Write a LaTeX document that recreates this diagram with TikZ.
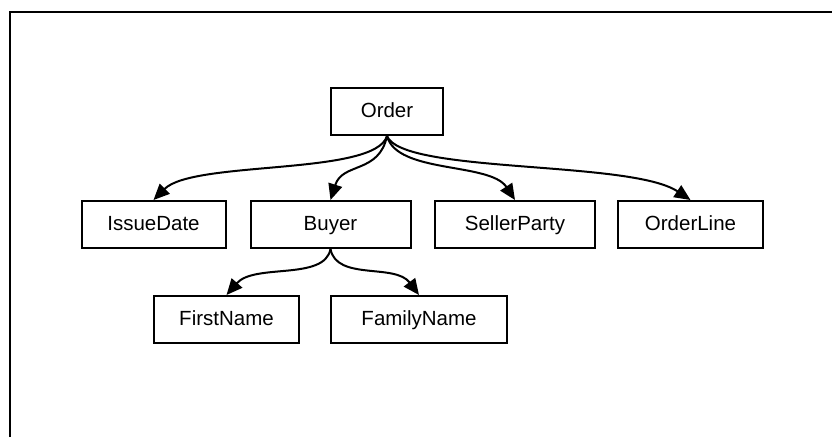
\documentclass[tikz,border=0pt]{standalone}
\usepackage{fontspec}
\setmainfont{Liberation Sans}
\usetikzlibrary{arrows.meta}
\begin{document}
\begin{tikzpicture}[x=1pt,y=-1pt,
  box/.style={draw,line width=2pt,inner sep=0pt,minimum height=47pt,text height=15pt,text depth=4pt,font=\fontsize{20.5}{24}\selectfont},
  link/.style={line width=2pt,-{Triangle[length=16pt,width=14pt]}}]
\useasboundingbox (0,0) rectangle (832,437);
\draw[line width=2pt] (10,437) |- (832,12);
\node[box,minimum width=112pt] (order) at (387,111.5) {Order};
\node[box,minimum width=144pt] (issue) at (153.5,224.5) {IssueDate};
\node[box,minimum width=160pt] (buyer) at (330.5,224.5) {Buyer};
\node[box,minimum width=160pt] (seller) at (515,224.5) {SellerParty};
\node[box,minimum width=145pt] (line) at (690.5,224.5) {OrderLine};
\node[box,minimum width=145pt] (first) at (226.5,319.5) {FirstName};
\node[box,minimum width=176pt] (family) at (419,319.5) {FamilyName};
\draw[link] (order.south) .. controls +(-12,40) and +(40,-40) .. (issue.north);
\draw[link] (order.south) .. controls +(-8,38) and +(12,-38) .. (buyer.north);
\draw[link] (order.south) .. controls +(10,38) and +(-25,-38) .. (seller.north);
\draw[link] (order.south) .. controls +(15,38) and +(-60,-40) .. (line.north);
\draw[link] (buyer.south) .. controls +(-6,32) and +(28,-32) .. (first.north);
\draw[link] (buyer.south) .. controls +(6,32) and +(-24,-32) .. (family.north);
\end{tikzpicture}
\end{document}
